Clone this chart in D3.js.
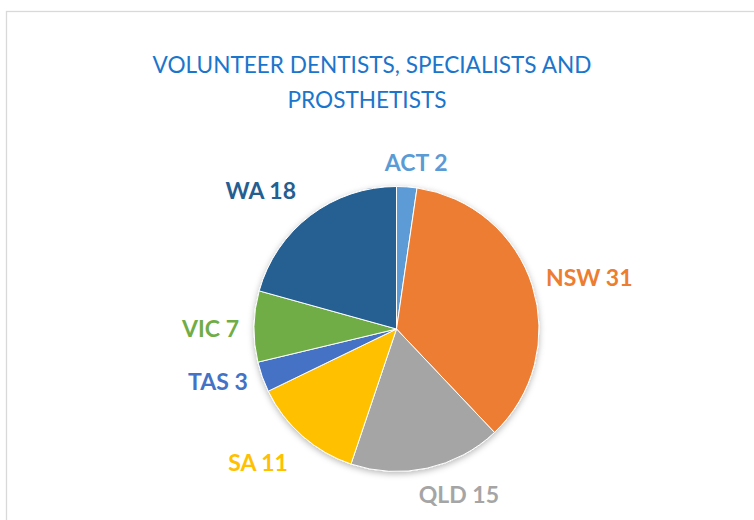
<!DOCTYPE html>
<html><head><meta charset="utf-8">
<script src="https://cdn.jsdelivr.net/npm/d3@7/dist/d3.min.js"></script>
<style>html,body{margin:0;padding:0;background:#fff;}svg{display:block;}</style>
</head><body>
<svg id="chart" width="754" height="520"></svg>
<script>
const categories = ["ACT", "NSW", "QLD", "SA", "TAS", "VIC", "WA"];
const values = [2, 31, 15, 11, 3, 7, 18];
const colors = ["#5B9BD5", "#ED7D31", "#A5A5A5", "#FFC000", "#4472C4", "#70AD47", "#255E91"];
const titleLines = ["VOLUNTEER DENTISTS, SPECIALISTS AND", "PROSTHETISTS"];

// layout (not data)
const cx = 396.5, cy = 329, R = 142.5;
const labelGap = 13;
const labelAngleShift = {ACT: 2.6, NSW: 2.8, QLD: -8.2, SA: 4.6, TAS: 3, VIC: -1, WA: -7.2};
const labelRadialShift = {SA: 10, WA: 8, VIC: 2};

const svg = d3.select("#chart");
const defs = svg.append("defs");
const f = defs.append("filter").attr("id", "sh").attr("x", "-20%").attr("y", "-20%").attr("width", "140%").attr("height", "140%");
f.append("feDropShadow").attr("dx", 0).attr("dy", 2).attr("stdDeviation", 3).attr("flood-color", "#000").attr("flood-opacity", 0.28);

svg.append("rect").attr("x", 6.5).attr("y", 11.5).attr("width", 900).attr("height", 700)
  .attr("fill", "#fff").attr("stroke", "#d9d9d9").attr("stroke-width", 1.3);

const title = svg.append("text").attr("text-anchor", "middle")
  .attr("font-family", "Lato, 'Open Sans', sans-serif").attr("font-size", 22.6).attr("fill", "#1c75cc");
title.append("tspan").attr("x", 372).attr("y", 73).text(titleLines[0]);
title.append("tspan").attr("x", 367).attr("y", 108).text(titleLines[1]);

const color = d3.scaleOrdinal().domain(categories).range(colors);
const data = categories.map((c, i) => ({cat: c, val: values[i]}));
const pie = d3.pie().value(d => d.val).sort(null);
const arcs = pie(data);
const arc = d3.arc().innerRadius(0).outerRadius(R);

const g = svg.append("g").attr("transform", `translate(${cx},${cy})`);
g.append("g").attr("filter", "url(#sh)").selectAll("path").data(arcs).join("path")
  .attr("d", arc).attr("fill", d => color(d.data.cat))
  .attr("stroke", "#fff").attr("stroke-width", 1);

const lab = g.selectAll("text.lab").data(arcs).join("text").attr("class", "lab")
  .attr("font-family", "Lato, 'Open Sans', sans-serif").attr("font-weight", 700)
  .attr("font-size", 23).attr("fill", d => color(d.data.cat))
  .attr("text-anchor", "middle")
  .text(d => `${d.data.cat} ${d.data.val}`);

lab.each(function(d) {
  const w = this.getComputedTextLength();
  const h = 16;
  const a = (d.startAngle + d.endAngle) / 2 + (labelAngleShift[d.data.cat] || 0) * Math.PI / 180;
  const s = Math.sin(a), c = Math.cos(a);
  const rr = R + labelGap + (w / 2) * Math.abs(s) + (h / 2) * Math.abs(c) + (labelRadialShift[d.data.cat] || 0);
  const x = rr * s, y = -rr * c;
  d3.select(this).attr("x", x).attr("y", y + 8);
});
</script>
</body></html>
